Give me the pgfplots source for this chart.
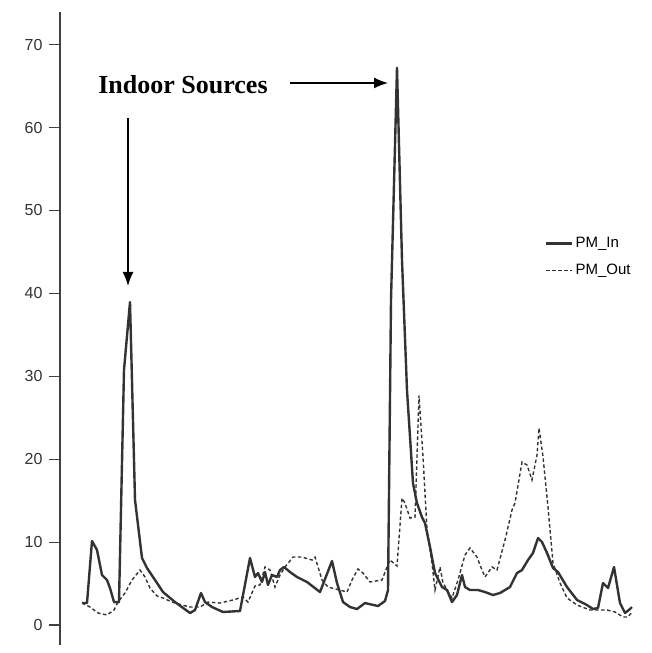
\documentclass[border=0pt]{standalone}
\usepackage{fontspec}
\setmainfont{Liberation Sans}
\newfontfamily\tnr{Liberation Serif}
\usepackage{pgfplots}
\pgfplotsset{compat=1.18}
\usetikzlibrary{arrows.meta}
\definecolor{ln}{HTML}{333333}
\definecolor{ax}{HTML}{404040}
\begin{document}
\begin{tikzpicture}
\useasboundingbox (0,0) rectangle (652bp,653bp);
\begin{axis}[
  at={(60bp,8bp)}, anchor=south west,
  scale only axis, width=585bp, height=633bp,
  xmin=60, xmax=645, ymin=-2.41, ymax=73.94,
  axis lines*=left,
  x axis line style={draw=none},
  xtick=\empty,
  y axis line style={color=ax, line width=1.4bp},
  ytick={0,10,...,70},
  ytick pos=left,
  tick align=outside,
  major tick length=11bp,
  ytick style={color=ax, line width=1.2bp},
  yticklabel style={/pgf/number format/assume math mode=true, font=\fontsize{16bp}{18bp}\selectfont, color=ln, xshift=-3bp},
  legend style={at={(0.829,0.647)}, anchor=north west, draw=none, fill=none,
    font=\fontsize{15bp}{17bp}\selectfont, row sep=11bp, inner sep=0pt},
  legend cell align=left,
  legend image code/.code={\draw[#1] (0bp,0bp) -- (26bp,0bp);},
  clip=false,
]
\addplot[color=ln, line width=2.4bp, line join=round] coordinates {
(82,2.65)(87,2.65)(92,10.13)(97,9.05)(102,6.03)(107,5.43)(110,4.46)(114,2.77)(119,2.77)
(124,30.76)(130,38.96)(135,15.1)(142,8.08)(147,6.88)(153,5.79)(163,3.98)(175,2.77)
(190,1.45)(195,1.81)(201,3.86)(205,2.77)(212,2.17)(223,1.57)(240,1.69)(250,8.08)
(255,5.79)(258,6.27)(262,5.19)(265,6.39)(268,4.83)(272,6.03)(277,5.79)(280,6.63)
(284,7.0)(290,6.39)(297,5.79)(307,5.19)(320,3.98)(332,7.72)(337,5.07)(343,2.77)
(350,2.17)(357,1.93)(365,2.65)(378,2.29)(385,2.90)(388,4.2)(391,39.2)(397,67.2)
(402,44.0)(407,28.3)(413,17.1)(417,14.7)(422,13.0)(425,12.3)(430,9.41)(435,6.27)
(442,4.58)(447,4.22)(452,2.77)(457,3.62)(462,6.03)(465,4.58)(470,4.22)(478,4.22)
(485,3.98)(493,3.62)(500,3.86)(510,4.58)(517,6.27)(522,6.63)(528,7.84)(533,8.69)
(538,10.49)(542,10.01)(547,8.69)(553,6.88)(558,6.39)(567,4.58)(577,3.02)(587,2.41)
(593,1.93)(598,2.05)(603,5.07)(608,4.46)(614,7.0)(620,2.65)(625,1.45)(630,1.93)(632,2.17)
};
\addlegendentry{PM\_In}
\addplot[color=ln, line width=1.4bp, dash pattern=on 3.5bp off 2.5bp] coordinates {
(82,2.65)(90,2.17)(98,1.45)(107,1.21)(114,1.81)(118,2.77)(125,3.86)(132,5.43)(140,6.63)
(145,5.79)(150,4.46)(157,3.50)(163,3.26)(172,2.77)(182,2.41)(190,2.17)(200,2.17)
(208,2.77)(220,2.65)(233,3.02)(243,3.38)(248,2.77)(255,4.70)(260,4.83)(265,7.0)
(270,6.63)(275,4.58)(280,6.03)(285,7.0)(293,8.20)(302,8.20)(312,7.84)(315,8.20)
(322,5.43)(328,4.58)(340,4.22)(347,3.98)(352,5.43)(358,6.76)(363,6.27)(370,5.19)
(382,5.43)(387,7.0)(390,7.84)(397,7.12)(402,15.3)(405,14.7)(410,12.9)(415,13.0)
(419,27.7)(423,20.3)(427,11.5)(432,7.48)(435,4.22)(440,7.0)(443,5.07)(452,3.26)
(458,5.43)(465,8.44)(470,9.29)(477,8.20)(482,6.63)(485,5.79)(492,7.0)(497,6.63)
(505,10.25)(512,13.87)(515,14.72)(522,19.66)(527,19.3)(532,17.49)(537,20.5)(539,23.76)
(543,20.3)(548,14.2)(553,7.48)(560,5.07)(567,3.26)(577,2.41)(590,1.81)(607,1.81)
(615,1.57)(623,0.97)(628,0.97)(632,1.57)
};
\addlegendentry{PM\_Out}
\end{axis}
\node[font=\tnr\bfseries\fontsize{26bp}{30bp}\selectfont, anchor=center] at (183bp,568bp) {Indoor Sources};
\draw[line width=1.5bp, -{Latex[length=14bp,width=11bp]}] (290bp,570bp) -- (388bp,570bp);
\draw[line width=1.5bp, -{Latex[length=14bp,width=11bp]}] (128bp,535bp) -- (128bp,367bp);
\end{tikzpicture}
\end{document}
